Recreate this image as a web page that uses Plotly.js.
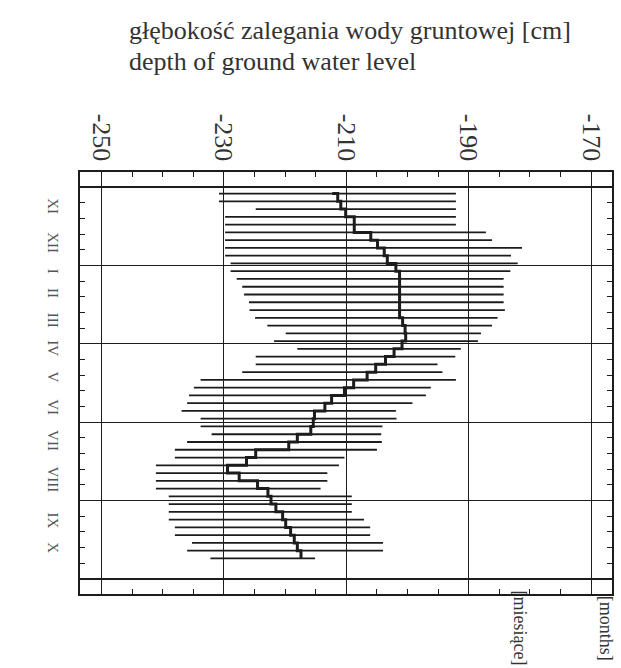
<!DOCTYPE html>
<html>
<head>
<meta charset="utf-8">
<script src="https://cdn.plot.ly/plotly-3.0.1.min.js"></script>
<style>html,body{margin:0;padding:0;background:#fff;}#chart{width:621px;height:668px;}</style>
</head>
<body>
<div id="chart"></div>
<script>
// time step index (approx. weekly observations through the hydrological year)
const weeks = [1,2,3,4,5,6,7,8,9,10,11,12,13,14,15,16,17,18,19,20,21,22,23,24,
               25,26,27,28,29,30,31,32,33,34,35,36,37,38,39,40,41,42,43,44,45,46,47,48];
// minimum depth of ground water level [cm]
const minDepth = [-230.8,-230.8,-224.8,-229.8,-229.8,-229.8,-229.8,-229.8,-229.8,-228.9,
                  -228.9,-227.9,-227.0,-226.7,-225.9,-225.8,-224.9,-222.9,-219.9,-221.8,
                  -218.0,-224.8,-224.8,-227.0,-233.8,-234.9,-235.7,-236.0,-236.9,-233.8,
                  -233.8,-232.0,-236.0,-238.0,-238.0,-241.1,-241.1,-241.1,-241.1,-239.0,
                  -239.0,-239.0,-239.0,-238.0,-238.0,-235.2,-236.0,-232.2];
// maximum depth of ground water level [cm]
const maxDepth = [-192.1,-192.1,-192.1,-192.1,-192.1,-187.2,-186.2,-181.3,-183.1,-182.0,
                  -183.2,-184.3,-184.3,-184.3,-184.3,-184.1,-185.3,-186.2,-188.0,-188.5,
                  -191.3,-192.2,-195.1,-194.3,-192.1,-196.2,-197.0,-199.2,-201.9,-201.8,
                  -204.1,-204.3,-204.2,-205.0,-210.3,-211.2,-213.1,-213.1,-214.2,-209.1,
                  -209.1,-209.1,-207.1,-206.1,-206.1,-204.0,-204.0,-215.1];
// central (median) depth [cm]
const medianDepth = [-212.3,-211.4,-210.9,-210.1,-208.7,-208.7,-206.0,-204.9,-203.8,-203.3,
                     -201.9,-201.3,-201.3,-201.3,-201.3,-201.3,-201.3,-200.8,-200.4,-200.3,
                     -200.9,-202.2,-203.6,-205.2,-206.6,-208.8,-210.3,-212.4,-213.5,-215.2,
                     -215.4,-215.8,-218.0,-219.4,-224.8,-226.3,-229.4,-227.5,-224.5,-222.8,
                     -222.3,-221.5,-220.4,-219.9,-219.1,-218.5,-218.0,-217.4];
// month labels and their positions on the time scale
const monthLabels = ['XI','XII','I','II','III','IV','V','VI','VII','VIII','IX','X'];
const monthPos = [2.9,7.6,11.3,14.1,17.6,21.2,24.9,28.8,33.1,38.1,43.4,46.9];
// depth axis ticks
const depthTicks = [-250,-230,-210,-190,-170];

const ink = '#1c1c1c';
const rx = [], ry = [];
for (let i = 0; i < weeks.length; i++) {
  rx.push(minDepth[i], maxDepth[i], null);
  ry.push(weeks[i], weeks[i], null);
}

const traces = [
  {x: rx, y: ry, type: 'scatter', mode: 'lines', line: {color: ink, width: 1.8},
   hoverinfo: 'skip', showlegend: false, xaxis: 'x', yaxis: 'y'},
  {x: medianDepth, y: weeks, type: 'scatter', mode: 'lines',
   line: {color: ink, width: 3, shape: 'hv'}, showlegend: false, xaxis: 'x', yaxis: 'y'},
  {x: [-260], y: [-10], type: 'scatter', mode: 'markers', marker: {opacity: 0},
   hoverinfo: 'skip', showlegend: false, xaxis: 'x', yaxis: 'y2'}
];

const serif = "'Liberation Serif', 'Times New Roman', serif";
const layout = {
  width: 621, height: 668,
  margin: {l: 80, r: 9, t: 172, b: 74},
  paper_bgcolor: '#fff', plot_bgcolor: '#fff',
  showlegend: false,
  xaxis: {
    range: [-253.5, -166.6], side: 'top',
    tickmode: 'array', tickvals: depthTicks, ticktext: depthTicks.map(String),
    tickangle: 90, ticks: 'inside', ticklen: 7, tickcolor: ink, tickwidth: 1.2,
    ticklabelstandoff: 0,
    showgrid: true, gridcolor: ink, gridwidth: 1.2,
    showline: true, linecolor: ink, linewidth: 1.6, mirror: 'ticks',
    zeroline: false,
    minor: {tickmode: 'linear', tick0: -250, dtick: 5, ticks: 'inside', ticklen: 5,
            tickcolor: ink, tickwidth: 1, showgrid: false},
    tickfont: {family: serif, size: 26, color: '#333'}
  },
  yaxis: {
    range: [52.58, -1.78],
    tickmode: 'array', tickvals: monthPos, ticktext: monthLabels,
    tickangle: 90, ticks: '', showgrid: false, showline: false, zeroline: false,
    ticklabelstandoff: 16,
    tickfont: {family: serif, size: 15, color: '#555'}
  },
  yaxis2: {
    overlaying: 'y', side: 'left', range: [51.92, -1.92],
    tickmode: 'linear', tick0: 0, dtick: 10, showticklabels: false,
    ticks: 'inside', ticklen: 7, tickcolor: ink,
    showgrid: true, gridcolor: ink, gridwidth: 1.2,
    showline: true, linecolor: ink, linewidth: 1.6, mirror: 'ticks', zeroline: false,
    minor: {tickmode: 'linear', tick0: 0, dtick: 2, ticks: 'inside', ticklen: 5,
            tickcolor: ink, tickwidth: 1, showgrid: false}
  },
  annotations: [
    {text: 'głębokość zalegania wody gruntowej [cm]', xref: 'paper', yref: 'paper',
     x: 0.0883, xanchor: 'left', y: 1.336, yanchor: 'middle', showarrow: false,
     font: {family: serif, size: 26, color: '#333'}},
    {text: 'depth of ground water level', xref: 'paper', yref: 'paper',
     x: 0.0883, xanchor: 'left', y: 1.261, yanchor: 'middle', showarrow: false,
     font: {family: serif, size: 26, color: '#333'}},
    {text: '[miesiące]', xref: 'paper', yref: 'paper', x: 0.827, xanchor: 'center',
     y: 0.012, yanchor: 'top', textangle: 90, showarrow: false,
     font: {family: serif, size: 18, color: '#333'}},
    {text: '[months]', xref: 'paper', yref: 'paper', x: 0.99, xanchor: 'center',
     y: 0.0, yanchor: 'top', textangle: 90, showarrow: false,
     font: {family: serif, size: 18, color: '#333'}}
  ]
};

Plotly.newPlot('chart', traces, layout, {staticPlot: true, displayModeBar: false});
</script>
</body>
</html>
